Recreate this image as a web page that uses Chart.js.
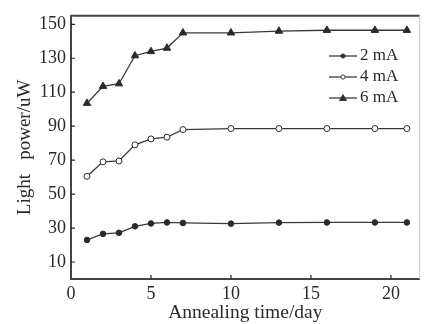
<!DOCTYPE html>
<html lang="en">
<head>
    <meta charset="UTF-8">
    <title>Light power vs annealing time</title>
    <script src="https://cdn.jsdelivr.net/npm/chart.js"></script>
    <style>
        body { margin: 0; background: #fff; }
        #wrap { width: 425px; height: 324px; }
    </style>
</head>
<body>
    <div id="wrap"><canvas id="chart" width="425" height="324"></canvas></div>

    <script>
        // annealing days
        const days = [1, 2, 3, 4, 5, 6, 7, 10, 13, 16, 19, 21];
        // light power (uW) per drive current
        const power2mA = [23, 26.6, 27.2, 31, 32.7, 33.3, 33, 32.6, 33.2, 33.3, 33.3, 33.3];
        const power4mA = [60.5, 69, 69.5, 79, 82.5, 83.5, 88, 88.6, 88.6, 88.6, 88.6, 88.6];
        const power6mA = [103.5, 113.5, 115, 131.5, 134, 136, 145, 145, 146, 146.5, 146.5, 146.5];
        const seriesNames = ['2 mA', '4 mA', '6 mA'];
        const xTicks = [0, 5, 10, 15, 20];
        const yTicks = [10, 30, 50, 70, 90, 110, 130, 150];

        const ink = '#2a2a2a';
        const serif = "'Liberation Serif', 'DejaVu Serif', serif";

        function pts(ys) {
            return days.map((d, i) => ({ x: d, y: ys[i] }));
        }

        const styles = [
            { pointStyle: 'circle', radius: 2.8, fill: ink },
            { pointStyle: 'circle', radius: 3, fill: '#fff' },
            { pointStyle: 'triangle', radius: 4.3, fill: ink }
        ];

        const datasets = [power2mA, power4mA, power6mA].map((ys, i) => ({
            label: seriesNames[i],
            data: pts(ys),
            borderColor: '#3a3a3a',
            borderWidth: 1.3,
            tension: 0,
            pointStyle: styles[i].pointStyle,
            pointRadius: styles[i].radius,
            pointBackgroundColor: styles[i].fill,
            pointBorderColor: ink,
            pointBorderWidth: 1
        }));

        // inward ticks, frame and legend drawn on top of the chart area
        const decor = {
            id: 'decor',
            afterDraw(chart) {
                const { ctx, chartArea: a, scales } = chart;
                ctx.save();
                ctx.strokeStyle = ink;
                ctx.lineWidth = 1.2;
                ctx.beginPath();
                xTicks.forEach(v => {
                    if (v === 0) return;
                    const px = scales.x.getPixelForValue(v);
                    ctx.moveTo(px, a.bottom);
                    ctx.lineTo(px, a.bottom - 4);
                });
                yTicks.forEach(v => {
                    const py = scales.y.getPixelForValue(v);
                    ctx.moveTo(a.left, py);
                    ctx.lineTo(a.left + 4, py);
                });
                ctx.stroke();

                // top frame line dark, right one faint
                ctx.lineWidth = 2;
                ctx.strokeStyle = '#444';
                ctx.beginPath();
                ctx.moveTo(a.left, a.top);
                ctx.lineTo(a.right, a.top);
                ctx.stroke();
                ctx.lineWidth = 1;
                ctx.strokeStyle = '#c8c8c8';
                ctx.beginPath();
                ctx.moveTo(a.right, a.top);
                ctx.lineTo(a.right, a.bottom);
                ctx.stroke();

                // legend
                const lx = 329, lw = 28, ly0 = 56, gap = 21;
                ctx.font = '17px ' + serif;
                ctx.textBaseline = 'middle';
                ctx.fillStyle = ink;
                seriesNames.forEach((name, i) => {
                    const y = ly0 + i * gap;
                    ctx.strokeStyle = '#3a3a3a';
                    ctx.lineWidth = 1.3;
                    ctx.beginPath();
                    ctx.moveTo(lx, y);
                    ctx.lineTo(lx + lw, y);
                    ctx.stroke();
                    const cx = lx + lw / 2;
                    ctx.beginPath();
                    if (i === 2) {
                        ctx.moveTo(cx, y - 3.5);
                        ctx.lineTo(cx + 3.5, y + 2.5);
                        ctx.lineTo(cx - 3.5, y + 2.5);
                        ctx.closePath();
                    } else {
                        ctx.arc(cx, y, 2.1, 0, Math.PI * 2);
                    }
                    ctx.fillStyle = i === 1 ? '#fff' : ink;
                    ctx.fill();
                    ctx.lineWidth = 1;
                    ctx.stroke();
                    ctx.fillStyle = ink;
                    ctx.fillText(name, lx + lw + 3, y);
                });
                ctx.restore();
            }
        };

        new Chart(document.getElementById('chart'), {
            type: 'line',
            data: { datasets },
            options: {
                responsive: false,
                animation: false,
                layout: { padding: { top: 9, right: 5, left: 0, bottom: 0 } },
                plugins: { legend: { display: false }, tooltip: { enabled: false } },
                scales: {
                    x: {
                        type: 'linear',
                        min: 0,
                        max: 21.8,
                        afterBuildTicks: s => { s.ticks = xTicks.map(v => ({ value: v })); },
                        afterFit: s => { s.height = 45; },
                        grid: { display: true, drawOnChartArea: false, drawTicks: false },
                        border: { color: '#444', width: 2 },
                        ticks: { color: ink, padding: 4, maxRotation: 0, font: { family: serif, size: 18 } },
                        title: {
                            display: true,
                            text: 'Annealing time/day',
                            color: ink,
                            padding: { top: 0, bottom: 1 },
                            font: { family: serif, size: 19.5, lineHeight: 1 }
                        }
                    },
                    y: {
                        min: 0,
                        max: 155,
                        afterBuildTicks: s => { s.ticks = yTicks.map(v => ({ value: v })); },
                        afterFit: s => { s.width = 71; },
                        grid: { display: true, drawOnChartArea: false, drawTicks: false },
                        border: { color: '#444', width: 2 },
                        ticks: { color: ink, padding: 5, font: { family: serif, size: 18 } },
                        title: {
                            display: true,
                            text: 'Light   power/uW',
                            color: ink,
                            padding: { top: 16, bottom: 0 },
                            font: { family: serif, size: 19, lineHeight: 1 }
                        }
                    }
                }
            },
            plugins: [decor]
        });
    </script>
</body>
</html>
